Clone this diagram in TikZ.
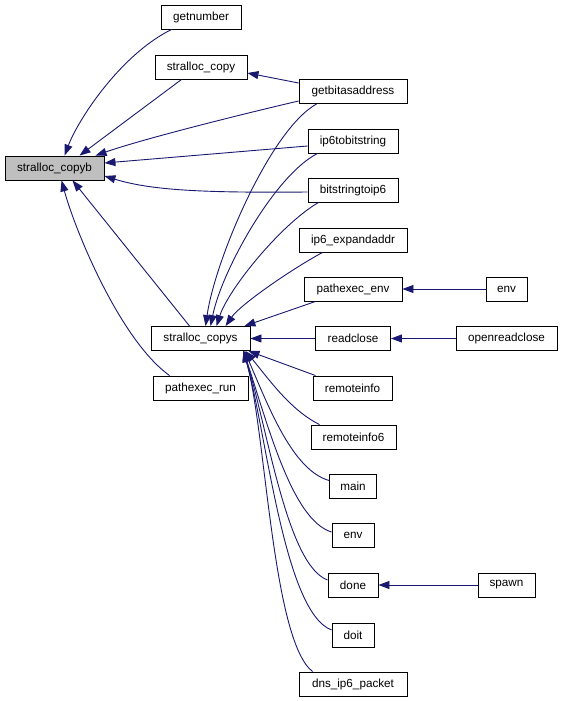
\documentclass[tikz,border=0pt]{standalone}
\usepackage{fontspec}
\setmainfont{Liberation Sans}
\usetikzlibrary{arrows.meta}
\definecolor{edgeblue}{RGB}{25,25,112}
\begin{document}
\begin{tikzpicture}[x=1pt,y=-1pt,
  box/.style={draw=black, line width=0.9pt, minimum height=24pt, inner sep=0pt, font=\fontsize{11.7}{14}\selectfont, fill=white},
  hl/.style={box, fill=black!25},
  edge/.style={draw=edgeblue, line width=0.9pt, -{Triangle[length=11pt,width=8pt]}}]
\useasboundingbox (0,0) rectangle (563,701);
% nodes
\node[hl,  minimum width=99pt]  (copyb)   at (54.5,168) {stralloc\_copyb};
\node[box, minimum width=80pt]  (getnumber) at (201,17) {getnumber};
\node[box, minimum width=92pt]  (scopy)   at (201,67) {stralloc\_copy};
\node[box, minimum width=108pt] (gba)     at (353,91.5) {getbitasaddress};
\node[box, minimum width=90pt]  (i6tb)    at (353,141) {ip6tobitstring};
\node[box, minimum width=90pt]  (bti6)    at (353,190) {bitstringtoip6};
\node[box, minimum width=108pt] (i6ex)    at (353,240) {ip6\_expandaddr};
\node[box, minimum width=98pt]  (penv)    at (353,289) {pathexec\_env};
\node[box, minimum width=41pt]  (envR)    at (506.5,289) {env};
\node[box, minimum width=99pt]  (copys)   at (200.5,338.5) {stralloc\_copys};
\node[box, minimum width=75pt]  (rclose)  at (353,338.5) {readclose};
\node[box, minimum width=101pt] (orclose) at (506.5,338.5) {openreadclose};
\node[box, minimum width=95pt]  (prun)    at (200.5,388) {pathexec\_run};
\node[box, minimum width=79pt]  (rinfo)   at (352.5,388) {remoteinfo};
\node[box, minimum width=85pt]  (rinfo6)  at (353.5,437) {remoteinfo6};
\node[box, minimum width=47pt]  (main)    at (353,486.5) {main};
\node[box, minimum width=42pt]  (env)     at (353,535.5) {env};
\node[box, minimum width=50pt]  (done)    at (353,585) {done};
\node[box, minimum width=57pt]  (spawn)   at (506.5,585) {spawn};
\node[box, minimum width=42pt]  (doit)    at (353,635) {doit};
\node[box, minimum width=108pt] (dns)     at (353,684) {dns\_ip6\_packet};
% edges to stralloc_copyb
\draw[edge] ([xshift=11pt]getnumber.south west) .. controls (120,55) and (78,120) .. ([xshift=60pt]copyb.north west);
\draw[edge] ([xshift=27pt]scopy.south west) -- ([xshift=75pt]copyb.north west);
\draw[edge] ([yshift=-9.5pt]gba.west) .. controls (230,117) and (140,140) .. ([xshift=91pt]copyb.north west);
\draw[edge] ([yshift=-5pt]i6tb.west) -- ([yshift=5pt]copyb.east);
\draw[edge] ([yshift=-2pt]bti6.west) .. controls (200,193) and (150,190) .. ([yshift=-8pt]copyb.east);
\draw[edge] ([xshift=39pt]copys.north west) -- ([xshift=68pt]copyb.south west);
\draw[edge] ([xshift=17pt]prun.north west) .. controls (120,340) and (75,230) .. ([xshift=57pt]copyb.south west);
% edge to stralloc_copy
\draw[edge] ([yshift=8.5pt]gba.west) -- ([yshift=-6pt]scopy.east);
% edges to stralloc_copys (above)
\draw[edge] ([xshift=18pt]gba.south west) .. controls (270,130) and (215,260) .. ([xshift=55pt]copys.north west);
\draw[edge] ([xshift=10pt]i6tb.south west) .. controls (275,175) and (222,270) .. ([xshift=60pt]copys.north west);
\draw[edge] ([xshift=11pt]bti6.south west) .. controls (280,225) and (228,290) .. ([xshift=66pt]copys.north west);
\draw[edge] ([xshift=24pt]i6ex.south west) .. controls (290,270) and (240,305) .. ([xshift=75pt]copys.north west);
\draw[edge] ([xshift=12pt]penv.south west) -- ([xshift=-6pt]copys.north east);
\draw[edge] (rclose.west) -- (copys.east);
% edges to stralloc_copys (below)
\draw[edge] ([xshift=3pt]rinfo.north west) -- ([xshift=-2pt]copys.south east);
\draw[edge] ([xshift=9pt]rinfo6.north west) .. controls (290,410) and (268,378) .. ([xshift=-5pt]copys.south east);
\draw[edge] ([yshift=6pt]main.west) .. controls (292,470) and (268,405) .. ([xshift=-6pt]copys.south east);
\draw[edge] ([yshift=3.5pt]env.west) .. controls (292,520) and (268,425) .. ([xshift=-7pt]copys.south east);
\draw[edge] ([yshift=5pt]done.west) .. controls (287,565) and (268,430) .. ([xshift=-7pt]copys.south east);
\draw[edge] ([yshift=5pt]doit.west) .. controls (284,612) and (267,435) .. ([xshift=-7pt]copys.south east);
\draw[edge] ([xshift=14pt]dns.north west) .. controls (272,640) and (266,430) .. ([xshift=-7pt]copys.south east);
% right column
\draw[edge] (envR.west) -- (penv.east);
\draw[edge] (orclose.west) -- (rclose.east);
\draw[edge] (spawn.west) -- (done.east);
\end{tikzpicture}
\end{document}
